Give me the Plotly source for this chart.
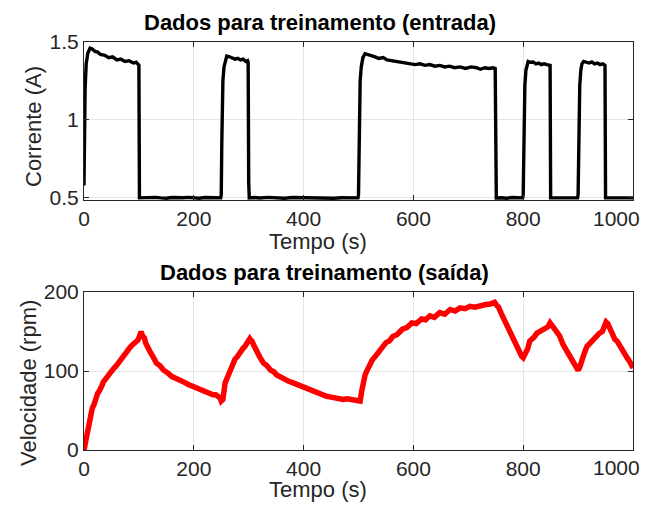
import plotly.graph_objects as go

# ---- input current (A) ----
t_in = [0, 1, 2, 4, 7, 11, 15, 20, 25, 30, 38, 45, 52, 60, 67, 75, 82, 90, 95, 99, 100, 101,
        110, 120, 130, 140, 150, 160, 170, 180, 190, 200, 210, 220, 230, 240, 249, 250, 251, 252, 253, 255, 258, 260,
        265, 270, 275, 280, 285, 290, 295, 298, 299, 300, 301,
        310, 320, 335, 350, 365, 380, 395, 410, 425, 440, 455, 470, 485, 499, 500, 501, 502, 503, 505, 508, 512,
        518, 524, 530, 537, 545, 552, 560, 568, 576, 585, 594, 603, 612, 621, 630, 639, 648, 657, 666, 675,
        685, 695, 705, 715, 722, 730, 738, 745, 749, 750, 751,
        760, 770, 780, 790, 799, 800, 801, 802, 803, 805, 807, 809, 813, 818, 823, 828, 833, 838, 843, 848, 849, 850,
        860, 870, 880, 890, 899, 900, 901, 902, 903, 905, 907, 910, 915, 920, 925, 930, 935, 940, 945, 948, 949, 950,
        960, 970, 980, 990, 1000]
i_in = [0.58, 0.95, 1.20, 1.36, 1.43, 1.46, 1.455, 1.44, 1.435, 1.42, 1.415, 1.40, 1.405, 1.385, 1.39, 1.375, 1.38, 1.365, 1.37, 1.355, 1.35, 0.50,
        0.502, 0.499, 0.503, 0.500, 0.498, 0.502, 0.499, 0.501, 0.503, 0.500, 0.498, 0.502, 0.499, 0.501, 0.500, 0.52, 0.85, 1.10, 1.25, 1.34, 1.39, 1.41,
        1.405, 1.40, 1.39, 1.395, 1.385, 1.39, 1.375, 1.38, 1.37, 0.60, 0.50,
        0.502, 0.499, 0.503, 0.500, 0.498, 0.502, 0.501, 0.499, 0.503, 0.500, 0.498, 0.501, 0.502, 0.500, 0.52, 0.85, 1.10, 1.25, 1.34, 1.40, 1.425,
        1.42, 1.41, 1.405, 1.395, 1.40, 1.385, 1.38, 1.375, 1.37, 1.365, 1.36, 1.355, 1.36, 1.35, 1.355, 1.345, 1.35, 1.34, 1.345, 1.335,
        1.34, 1.33, 1.34, 1.335, 1.325, 1.335, 1.33, 1.335, 1.33, 0.60, 0.50,
        0.501, 0.498, 0.502, 0.499, 0.500, 0.52, 0.85, 1.08, 1.22, 1.32, 1.36, 1.375, 1.37, 1.372, 1.36, 1.365, 1.355, 1.36, 1.355, 1.35, 1.35, 0.50,
        0.501, 0.499, 0.502, 0.500, 0.500, 0.52, 0.85, 1.08, 1.22, 1.32, 1.36, 1.375, 1.37, 1.365, 1.372, 1.36, 1.365, 1.355, 1.36, 1.35, 1.35, 0.50,
        0.500, 0.502, 0.499, 0.501, 0.500]

# ---- output speed (rpm) ----
t_out = [0, 2, 5, 8, 10, 13, 15, 18, 20, 23, 25, 28, 30, 33, 35, 38, 40, 44, 47, 51, 55, 58, 62, 67, 72, 76, 80, 84, 88, 92,
         95, 98, 100, 102, 104, 107, 110, 112, 116, 120, 125, 132, 138, 145, 152, 160, 167, 175, 182, 190, 197, 204, 211,
         218, 225, 230, 235, 240, 244, 248, 250, 253, 257, 261, 265, 270, 275, 279, 283, 287, 290, 293, 296, 299, 302, 304,
         306, 309, 312, 316, 320, 327, 333, 340, 346, 351, 358, 365, 373, 381, 388, 395, 403, 412, 419, 427, 434, 442, 450,
         458, 465, 472, 479, 485, 490, 494, 499, 503, 506, 509, 512, 515, 518, 521, 525, 530, 535, 539, 545, 550, 556, 563,
         570, 580, 588, 597, 605, 615, 622, 630, 638, 648, 657, 667, 676, 685, 694, 703, 712, 720, 730, 740, 745, 748, 752,
         755, 760, 767, 775, 782, 790, 797, 800, 804, 808, 812, 816, 820, 825, 830, 835, 840, 845, 849, 852, 855, 860, 866,
         873, 879, 885, 890, 896, 900, 903, 907, 911, 916, 920, 925, 930, 934, 939, 944, 948, 951, 954, 958, 962, 967, 971,
         975, 979, 982, 986, 990, 994, 997, 1000]
v_out = [0, 8, 22, 32, 40, 46, 53, 57, 63, 66, 72, 75, 80, 82, 86, 89, 91, 95, 97, 101, 104, 106, 110, 116, 120, 122, 127, 130, 133, 135,
         138, 139, 142, 146, 150, 144, 142, 136, 132, 125, 119, 110, 107, 101, 98, 93, 91, 89, 86, 83, 81, 78, 76,
         75, 73, 72, 70, 70, 68, 66, 62, 64, 85, 92, 100, 108, 115, 118, 123, 125, 129, 131, 134, 136, 141, 139,
         138, 133, 128, 123, 118, 110, 107, 101, 99, 95, 92, 90, 87, 85, 83, 81, 78, 76, 75, 72, 71, 68, 67,
         66, 65, 64, 65, 64, 63, 62, 61, 62, 75, 90, 95, 100, 104, 110, 114, 118, 122, 127, 130, 136, 138, 144,
         146, 153, 155, 161, 160, 166, 165, 170, 168, 174, 172, 178, 176, 180, 179, 182, 181, 183, 184, 185, 186, 187, 183,
         181, 173, 163, 151, 138, 128, 119, 117, 122, 128, 138, 140, 143, 148, 150, 152, 154, 156, 161, 158, 155, 150, 145,
         133, 126, 118, 112, 104, 101, 105, 115, 122, 131, 134, 138, 143, 146, 148, 150, 155, 162, 160, 154, 147, 140, 138,
         133, 128, 123, 120, 116, 112, 108, 104]

x_ticks = [0, 200, 400, 600, 800, 1000]
x_ticktext = ["0", "200", "400", "600", "800", ""]   # last label drawn right-aligned below
last_x_label = "1000"

FONT = "Liberation Sans"
TXT = "#262626"
GRID = "#e5e5e5"
AX = "#262626"

fig = go.Figure()
fig.add_trace(go.Scatter(x=t_in, y=i_in, mode="lines", line=dict(color="black", width=3.4),
                         xaxis="x", yaxis="y", showlegend=False))
fig.add_trace(go.Scatter(x=t_out, y=v_out, mode="lines", line=dict(color="#ff0000", width=5.5),
                         xaxis="x2", yaxis="y2", showlegend=False))

TICKF = dict(family=FONT, size=21, color=TXT)
axcommon = dict(showline=True, linecolor=AX, linewidth=1, mirror="ticks", ticks="inside",
                ticklen=5, tickcolor=AX, showgrid=True, gridcolor=GRID, gridwidth=1,
                zeroline=False, automargin=False, tickfont=TICKF)
TF = dict(family=FONT, size=22, color=TXT)
HF = dict(family=FONT, size=22, color="black")

# page has an 8px body margin; the plot area lands at x 84..633, y 42..450
W, H = 643, 498
ML, MR, MT, MB = 76, 18, 34, 56
PW, PH = 549, 408


def fx(px):
    return (px - 84) / PW


def fy(py):
    return (450 - py) / PH


fig.update_layout(
    width=W, height=H,
    margin=dict(l=ML, r=MR, t=MT, b=MB),
    paper_bgcolor="white", plot_bgcolor="white",
    xaxis=dict(domain=[0, 1], range=[0, 1000], tickvals=x_ticks, ticktext=x_ticktext,
               anchor="y", **axcommon),
    yaxis=dict(domain=[0.613, 1], range=[0.487, 1.5], tickvals=[0.5, 1, 1.5],
               ticktext=["0.5", "1", "1.5"], anchor="x", **axcommon),
    xaxis2=dict(domain=[0, 1], range=[0, 1000], tickvals=x_ticks, ticktext=x_ticktext,
                anchor="y2", **axcommon),
    yaxis2=dict(domain=[0, 0.387], range=[0, 200], tickvals=[0, 100, 200], anchor="x2", **axcommon),
    annotations=[
        dict(text="<b>Dados para treinamento (entrada)</b>", x=fx(320), y=fy(23), xref="paper", yref="paper",
             xanchor="center", yanchor="middle", showarrow=False, font=HF),
        dict(text="<b>Dados para treinamento (saída)</b>", x=fx(324), y=fy(272), xref="paper", yref="paper",
             xanchor="center", yanchor="middle", showarrow=False, font=HF),
        dict(text="Tempo (s)", x=fx(318), y=fy(241), xref="paper", yref="paper",
             xanchor="center", yanchor="middle", showarrow=False, font=TF),
        dict(text="Tempo (s)", x=fx(318), y=fy(489), xref="paper", yref="paper",
             xanchor="center", yanchor="middle", showarrow=False, font=TF),
        dict(text="Corrente (A)", x=fx(33), y=fy(127), xref="paper", yref="paper", textangle=-90,
             xanchor="center", yanchor="middle", showarrow=False, font=TF),
        dict(text="Velocidade (rpm)", x=fx(28), y=fy(383), xref="paper", yref="paper", textangle=-90,
             xanchor="center", yanchor="middle", showarrow=False, font=TF),
        dict(text=last_x_label, x=fx(641), y=fy(218), xref="paper", yref="paper",
             xanchor="right", yanchor="middle", showarrow=False, font=TICKF, borderpad=0),
        dict(text=last_x_label, x=fx(641), y=fy(467), xref="paper", yref="paper",
             xanchor="right", yanchor="middle", showarrow=False, font=TICKF, borderpad=0),
    ],
)

fig.write_html("out.html")
